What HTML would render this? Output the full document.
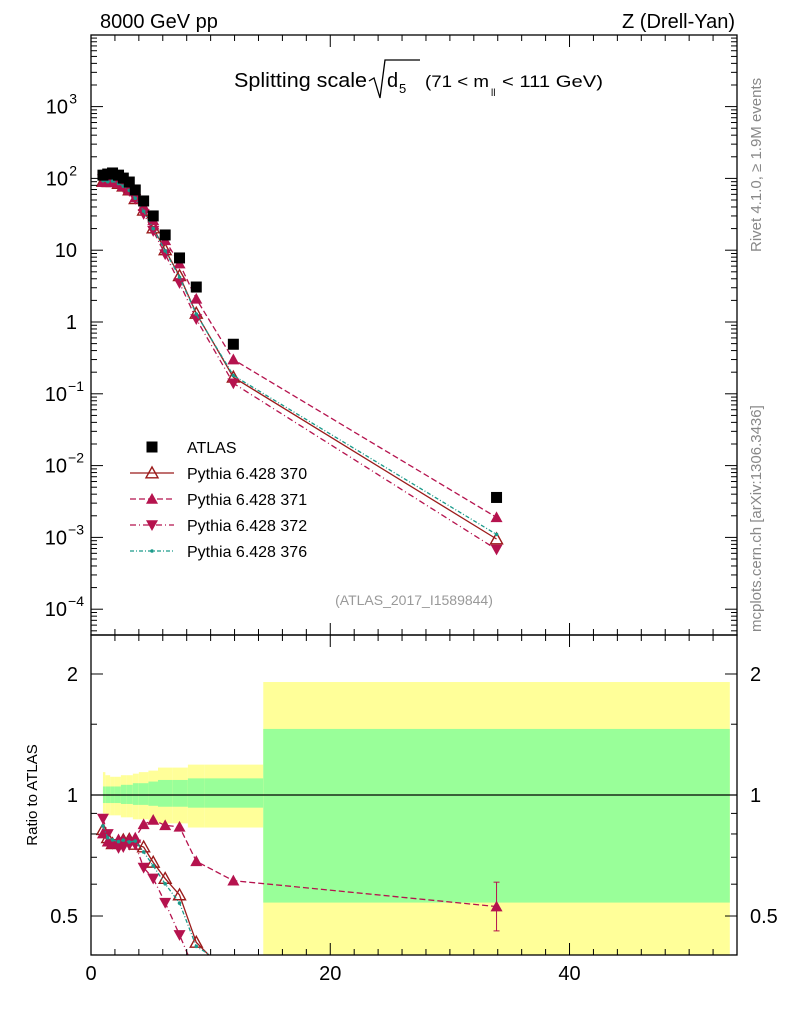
<!DOCTYPE html>
<html><head><meta charset="utf-8"><style>
html,body{margin:0;padding:0;background:#fff;overflow:hidden;width:786px;height:1024px;}
svg{display:block;font-family:"Liberation Sans",Arial,sans-serif;}
</style></head><body>
<svg id="plot" width="786" height="1024" viewBox="0 0 786 1024">
<text x="100" y="28" font-size="20">8000 GeV pp</text>
<text x="735" y="28" font-size="20" text-anchor="end">Z (Drell-Yan)</text>
<g>
<text x="234" y="87" font-size="20" textLength="133" lengthAdjust="spacingAndGlyphs">Splitting scale</text>
<path d="M369,81 L374,78 L380,98 L385,60 L420,60" fill="none" stroke="#000" stroke-width="1.3"/>
<text x="387" y="87" font-size="20">d</text><text x="399" y="93" font-size="13">5</text>
<text x="425" y="87" font-size="17" textLength="64" lengthAdjust="spacingAndGlyphs">(71 &lt; m</text><text x="491" y="96" font-size="10">ll</text><text x="502" y="87" font-size="17" textLength="101" lengthAdjust="spacingAndGlyphs">&lt; 111 GeV)</text>
</g>
<text transform="translate(761,252) rotate(-90)" font-size="15" fill="#888">Rivet 4.1.0, ≥ 1.9M events</text>
<text transform="translate(761,632) rotate(-90)" font-size="15" fill="#888">mcplots.cern.ch [arXiv:1306.3436]</text>
<text x="414" y="605" font-size="14" fill="#999" text-anchor="middle">(ATLAS_2017_I1589844)</text>
<text transform="translate(37,795) rotate(-90)" font-size="15" text-anchor="middle">Ratio to ATLAS</text>
<g id="bands"></g><g id="marks"></g><g id="axes"></g><g id="legend"></g>
</svg>
<script>
const xs=[1.0,1.4,1.8,2.3,2.7,3.2,3.7,4.4,5.2,6.2,7.4,8.8,11.9,33.9];
const edges=[1.0,1.2,1.6,2.0,2.5,3.0,3.5,4.0,4.8,5.6,6.8,8.1,9.5,14.4,53.4];
const atlas=[111,115,119,111,101,89,69,48.5,30,16.3,7.8,3.07,0.49,0.0036];
const mc370=[91,90,90,85,78,69,52,36,20.4,10.1,4.4,1.32,0.17,0.00095];
const mc371=[89,88,90,86,78,69,54,41,26,13.7,6.5,2.1,0.30,0.0019];
const mc372=[97,92,90,82,75,67,52,32,18.6,8.8,3.5,1.1,0.14,0.00068];
const mc376=[93,90,92,85,78,68,53,35,20,9.8,4.2,1.29,0.18,0.0011];
const yelUp=[1.14,1.12,1.11,1.11,1.12,1.12,1.13,1.14,1.15,1.17,1.17,1.19,1.19,1.91];
const grnUp=[1.05,1.05,1.05,1.05,1.06,1.06,1.07,1.07,1.08,1.09,1.09,1.10,1.10,1.46];
const grnLo=[0.955,0.955,0.955,0.955,0.95,0.95,0.945,0.945,0.94,0.935,0.935,0.93,0.93,0.54];
const yelLo=[0.9,0.89,0.89,0.89,0.88,0.88,0.87,0.87,0.86,0.85,0.85,0.83,0.83,0.3];
const xTicks=[0,20,40];
const yTicks=[-4,-3,-2,-1,0,1,2,3];
const rTicks=[0.5,1,2];

const NS="http://www.w3.org/2000/svg";
const L=91,R=737,T=35,B=635,RT=635,RB=955;
const X=v=>L+(v-0)*(R-L)/54;
const Y=v=>322-Math.log10(v)*71.8;
const YR=v=>795-Math.log10(v)*402;
function mk(tag,attrs,parent){const e=document.createElementNS(NS,tag);for(const k in attrs)e.setAttribute(k,attrs[k]);parent.appendChild(e);return e;}
const gB=document.getElementById('bands'),gM=document.getElementById('marks'),gA=document.getElementById('axes'),gL=document.getElementById('legend');
const clip=mk('clipPath',{id:'cr'},document.getElementById('plot'));mk('rect',{x:L,y:RT,width:R-L,height:RB-RT},clip);
const clipT=mk('clipPath',{id:'ct'},document.getElementById('plot'));mk('rect',{x:L,y:T,width:R-L,height:B-T},clipT);
gB.setAttribute('clip-path','url(#cr)');
for(let i=0;i<xs.length;i++){
 const x0=X(edges[i]),w=X(edges[i+1])-x0;
 let r=mk('rect',{x:x0,y:YR(yelUp[i]),width:w,height:YR(yelLo[i])-YR(yelUp[i]),fill:'#ffff99'},gB);
 
 
 r=mk('rect',{x:x0,y:YR(grnUp[i]),width:w,height:YR(grnLo[i])-YR(grnUp[i]),fill:'#99ff99'},gB);
 
 
}
mk('line',{x1:L,x2:R,y1:YR(1),y2:YR(1),stroke:'#000','stroke-width':1.2},gB);
function marker(type,x,y,col,g){
 const s=6;
 if(type==='sq')return mk('rect',{x:x-5.5,y:y-5.5,width:11,height:11,fill:'#000'},g);
 if(type==='up')return mk('polygon',{points:`${x},${y-s} ${x-s},${y+s*0.8} ${x+s},${y+s*0.8}`,fill:col},g);
 if(type==='upo')return mk('polygon',{points:`${x},${y-s} ${x-s},${y+s*0.8} ${x+s},${y+s*0.8}`,fill:'none',stroke:col,'stroke-width':1.4},g);
 if(type==='dn')return mk('polygon',{points:`${x},${y+s} ${x-s},${y-s*0.8} ${x+s},${y-s*0.8}`,fill:col},g);
 if(type==='dot')return mk('circle',{cx:x,cy:y,r:1.8,fill:col},g);
}
const series=[
 {name:'Pythia 6.428 370',d:mc370,col:'#9b1b1b',dash:'',m:'upo',id:'370'},
 {name:'Pythia 6.428 371',d:mc371,col:'#b5134e',dash:'6,3',m:'up',id:'371'},
 {name:'Pythia 6.428 372',d:mc372,col:'#b5134e',dash:'6,3,1,3',m:'dn',id:'372'},
 {name:'Pythia 6.428 376',d:mc376,col:'#1a9a8a',dash:'4,2,1,2',m:'dot',id:'376'}];
const gTop=mk('g',{'clip-path':'url(#ct)'},gM),gRat=mk('g',{'clip-path':'url(#cr)'},gM);
series.forEach(s=>{
 let p=mk('polyline',{points:xs.map((x,i)=>X(x)+','+Y(s.d[i])).join(' '),fill:'none',stroke:s.col,'stroke-width':1.3,'stroke-dasharray':s.dash},gTop);
 
 
 p=mk('polyline',{points:xs.map((x,i)=>X(x)+','+YR(s.d[i]/atlas[i])).join(' '),fill:'none',stroke:s.col,'stroke-width':1.3,'stroke-dasharray':s.dash},gRat);
 
 
 xs.forEach((x,i)=>{
  let m=marker(s.m,X(x),Y(s.d[i]),s.col,gTop);
  
  
  m=marker(s.m,X(x),YR(s.d[i]/atlas[i]),s.col,gRat);
  
  
 });
});
{const i=xs.length-1,x=X(xs[i]),r=mc371[i]/atlas[i];
 mk('line',{x1:x,x2:x,y1:YR(r*1.15),y2:YR(r*0.87),stroke:'#b5134e'},gRat);
 mk('line',{x1:x-3,x2:x+3,y1:YR(r*1.15),y2:YR(r*1.15),stroke:'#b5134e'},gRat);
 mk('line',{x1:x-3,x2:x+3,y1:YR(r*0.87),y2:YR(r*0.87),stroke:'#b5134e'},gRat);}
xs.forEach((x,i)=>{const m=marker('sq',X(x),Y(atlas[i]),'#000',gTop);
 
 });
mk('rect',{x:L,y:T,width:R-L,height:B-T,fill:'none',stroke:'#000','stroke-width':1.3},gA);
mk('rect',{x:L,y:RT,width:R-L,height:RB-RT,fill:'none',stroke:'#000','stroke-width':1.3},gA);
for(let d=-5;d<=4;d++)for(let k=1;k<10;k++){const v=k*Math.pow(10,d);const y=Y(v);if(y<T||y>B)continue;const len=k===1?12:6;
 mk('line',{x1:L,x2:L+len,y1:y,y2:y,stroke:'#000'},gA);mk('line',{x1:R,x2:R-len,y1:y,y2:y,stroke:'#000'},gA);}
yTicks.forEach(e=>{const y=Y(Math.pow(10,e));
 if(e===0||e===1){const t=mk('text',{x:77,y:y+7,'font-size':20,'text-anchor':'end'},gA);t.textContent=e===0?'1':'10';
  
  return;}
 const w=e<0?84:77;
 const t=mk('text',{x:w-(e<0?17:9),y:y+7,'font-size':20,'text-anchor':'end'},gA);t.textContent='10';
 
 
 const s=mk('text',{x:w,y:y-3,'font-size':14,'text-anchor':'end'},gA);s.textContent=e<0?'−'+(-e):''+e;
});
for(let v=0.4;v<=2.5;v+=0.1){const y=YR(v);const major=Math.abs(v-0.5)<1e-6||Math.abs(v-1)<1e-6||Math.abs(v-2)<1e-6;const len=major?12:6;
 if(v>1.05&&Math.abs((v*10)%5)>0.01&&!major)continue;
 mk('line',{x1:L,x2:L+len,y1:y,y2:y,stroke:'#000'},gA);mk('line',{x1:R,x2:R-len,y1:y,y2:y,stroke:'#000'},gA);}
rTicks.forEach(v=>{const y=YR(v);const lab=String(v);
 let t=mk('text',{x:78,y:y+7,'font-size':20,'text-anchor':'end'},gA);t.textContent=lab;
 
 
 t=mk('text',{x:750,y:y+7,'font-size':20,'text-anchor':'start'},gA);t.textContent=lab;
 
 });
for(let v=0;v<=54;v+=2){const x=X(v);const len=(v%20===0)?12:6;
 [[T,1],[B,-1],[RT,1],[RB,-1]].forEach(([y0,s])=>mk('line',{x1:x,x2:x,y1:y0,y2:y0+s*len,stroke:'#000'},gA));}
xTicks.forEach(v=>{const t=mk('text',{x:X(v),y:980,'font-size':20,'text-anchor':'middle'},gA);t.textContent=v;
 
 });
const ly=[447,473,499,525,551];
marker('sq',152,ly[0],'#000',gL);let t=mk('text',{x:187,y:ly[0]+6,'font-size':16},gL);t.textContent='ATLAS';


series.forEach((s,i)=>{const y=ly[i+1];
 mk('line',{x1:130,x2:174,y1:y,y2:y,stroke:s.col,'stroke-width':1.3,'stroke-dasharray':s.dash},gL);
 marker(s.m,152,y,s.col,gL);
 const tt=mk('text',{x:187,y:y+6,'font-size':16},gL);tt.textContent=s.name;
 
 });
</script>
</body></html>
